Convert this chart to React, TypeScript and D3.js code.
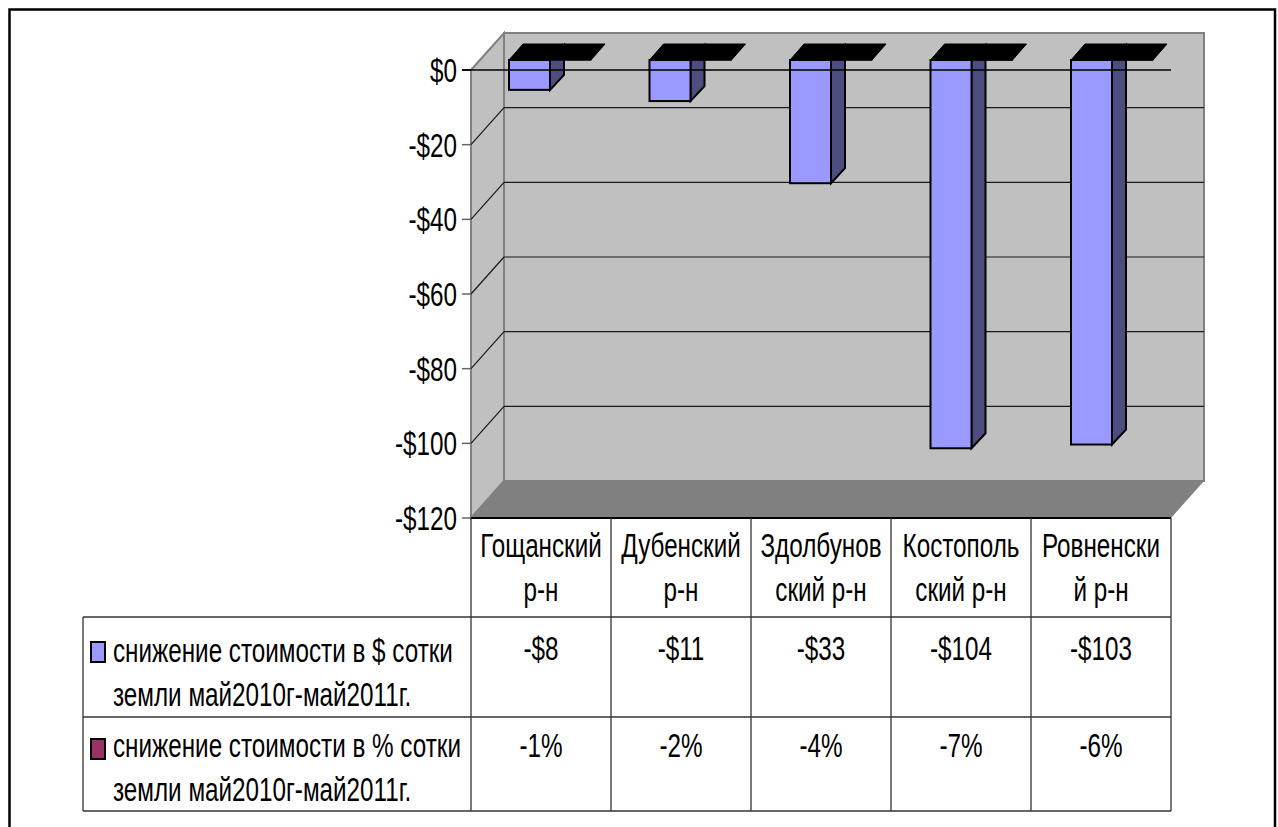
import * as d3 from 'd3';
import React from 'react';

const categories = [
    ['Гощанский', 'р-н'],
    ['Дубенский', 'р-н'],
    ['Здолбунов', 'ский р-н'],
    ['Костополь', 'ский р-н'],
    ['Ровненски', 'й р-н'],
];
const usdValues = [-8, -11, -33, -104, -103];
const pctValues = [-0.01, -0.02, -0.04, -0.07, -0.06];
const yTicks = [0, -20, -40, -60, -80, -100, -120];
const usdLabels = ['-$8', '-$11', '-$33', '-$104', '-$103'];
const pctLabels = ['-1%', '-2%', '-4%', '-7%', '-6%'];
const legendRows = [
    ['снижение стоимости в $ сотки', 'земли май2010г-май2011г.'],
    ['снижение стоимости в % сотки', 'земли май2010г-май2011г.'],
];

const FONT = '"Liberation Sans", Arial, sans-serif';
const depthX = 33;
const depthY = 37;

// the source text is narrow and tall, so it is squeezed horizontally
const Label: React.FC<{
    x: number;
    y: number;
    anchor?: string;
    children: React.ReactNode;
}> = ({ x, y, anchor = 'start', children }) => (
    <text
        transform={`translate(${x},${y}) scale(0.735,1)`}
        textAnchor={anchor}
        fontFamily={FONT}
        fontSize={33}
        fill="#000"
    >
        {children}
    </text>
);

const App: React.FC = () => {
    const y = d3.scaleLinear().domain([0, -120]).range([70, 518]);
    const x = d3.scaleBand<number>().domain(d3.range(5)).range([471, 1171]);
    const xBar = d3.scaleBand<number>().domain(d3.range(5)).range([509, 1211.5]);
    const rowY = [518, 617, 717, 811];
    const left = 471;
    const right = 1171;
    const barW = 41;

    const poly = (pts: number[][]) => pts.map((p) => p.join(',')).join(' ');
    const tickLabel = (v: number) => (v === 0 ? '$0' : `-$${Math.abs(v)}`);

    return (
        <svg
            width={1278}
            height={827}
            style={{ position: 'absolute', left: 0, top: 0 }}
        >
            <rect width={1278} height={827} fill="#fff" />
            <path
                d="M9.5,827V9.5H1275V827"
                fill="none"
                stroke="#000"
                strokeWidth={2.5}
            />

            {/* walls */}
            <polygon
                points={poly([
                    [left + depthX, y(0) - depthY],
                    [right + depthX, y(0) - depthY],
                    [right + depthX, y(-120) - depthY],
                    [left + depthX, y(-120) - depthY],
                ])}
                fill="#c0c0c0"
                stroke="#808080"
                strokeWidth={2}
            />
            <polygon
                points={poly([
                    [left, y(0)],
                    [left + depthX, y(0) - depthY],
                    [left + depthX, y(-120) - depthY],
                    [left, y(-120)],
                ])}
                fill="#c0c0c0"
                stroke="#808080"
                strokeWidth={2}
            />
            <polygon
                points={poly([
                    [left, y(-120)],
                    [left + depthX, y(-120) - depthY],
                    [right + depthX, y(-120) - depthY],
                    [right, y(-120)],
                ])}
                fill="#808080"
            />

            {/* gridlines */}
            {yTicks.slice(1, -1).map((t) => (
                <g key={t} stroke="#1a1a1a" strokeWidth={1.2}>
                    <line
                        x1={left}
                        y1={y(t)}
                        x2={left + depthX}
                        y2={y(t) - depthY}
                    />
                    <line
                        x1={left + depthX}
                        y1={y(t) - depthY}
                        x2={right + depthX}
                        y2={y(t) - depthY}
                    />
                </g>
            ))}

            {/* bars */}
            {usdValues.map((v, i) => {
                const x0 = xBar(i) as number;
                const top = y(0) - 10;
                const h = y(v) - y(0);
                const dx = 14;
                const dy = 15;
                const pctH = y(pctValues[i]) - y(0);
                return (
                    <g key={i} stroke="#000" strokeWidth={2}>
                        <polygon
                            points={poly([
                                [x0 + barW, top],
                                [x0 + barW + dx, top - dy],
                                [x0 + barW + dx, top - dy + h],
                                [x0 + barW, top + h],
                            ])}
                            fill="#4d4d80"
                        />
                        <rect
                            x={x0}
                            y={top}
                            width={barW}
                            height={h}
                            fill="#9999ff"
                        />
                        {/* the % series is so small it collapses to a black slab */}
                        <rect
                            x={x0 + barW}
                            y={top}
                            width={barW}
                            height={pctH}
                            fill="#993366"
                            strokeWidth={1}
                        />
                        <polygon
                            points={poly([
                                [x0, top],
                                [x0 + dx, top - dy - 1],
                                [x0 + barW * 2 + dx, top - dy - 1],
                                [x0 + barW * 2, top],
                            ])}
                            fill="#000"
                            strokeWidth={1}
                        />
                    </g>
                );
            })}

            {/* zero line */}
            <line x1={462} y1={y(0)} x2={right} y2={y(0)} stroke="#000" strokeWidth={1.3} />

            {/* y axis */}
            {yTicks.map((t) => (
                <g key={t}>
                    <line
                        x1={462}
                        y1={y(t)}
                        x2={left}
                        y2={y(t)}
                        stroke={t === 0 ? '#000' : '#666'}
                        strokeWidth={1.5}
                    />
                    <Label x={457} y={y(t) + 12} anchor="end">
                        {tickLabel(t)}
                    </Label>
                </g>
            ))}

            {/* data table */}
            <g stroke="#333" strokeWidth={1.3}>
                <line x1={left} y1={rowY[0]} x2={right} y2={rowY[0]} stroke="#000" strokeWidth={2} />
                <line x1={83} y1={rowY[1]} x2={right} y2={rowY[1]} />
                <line x1={83} y1={rowY[2]} x2={right} y2={rowY[2]} />
                <line x1={83} y1={rowY[3]} x2={right} y2={rowY[3]} />
                <line x1={83} y1={rowY[1]} x2={83} y2={rowY[3]} />
                {d3.range(6).map((i) => {
                    const vx = i === 5 ? right : (x(i) as number);
                    return (
                        <line key={i} x1={vx} y1={rowY[0]} x2={vx} y2={rowY[3]} />
                    );
                })}
            </g>

            {categories.map((lines, i) => {
                const cx = (x(i) as number) + x.bandwidth() / 2;
                return (
                    <g key={i}>
                        <Label x={cx} y={557} anchor="middle">{lines[0]}</Label>
                        <Label x={cx} y={601} anchor="middle">{lines[1]}</Label>
                        <Label x={cx} y={660} anchor="middle">{usdLabels[i]}</Label>
                        <Label x={cx} y={757} anchor="middle">{pctLabels[i]}</Label>
                    </g>
                );
            })}

            {legendRows.map((lines, i) => {
                const base = i === 0 ? 662 : 757;
                return (
                    <g key={i}>
                        <rect
                            x={91}
                            y={i === 0 ? 642 : 739}
                            width={14}
                            height={20}
                            fill={i === 0 ? '#9999ff' : '#993366'}
                            stroke="#000"
                            strokeWidth={2}
                        />
                        <Label x={113} y={base}>{lines[0]}</Label>
                        <Label x={113} y={base + 44}>{lines[1]}</Label>
                    </g>
                );
            })}
        </svg>
    );
};

export default App;
